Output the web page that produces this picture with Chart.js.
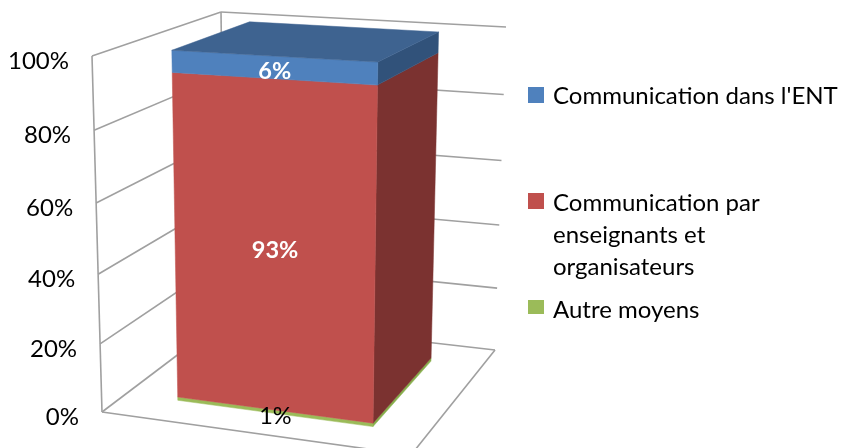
<!DOCTYPE html>
<html>
<head>
<meta charset="utf-8">
<style>
  html, body { margin: 0; padding: 0; background: #fff; }
  canvas { display: block; }
</style>
<script src="https://cdn.jsdelivr.net/npm/chart.js@4/dist/chart.umd.min.js"></script>
</head>
<body>
<canvas id="chart" width="841" height="448"></canvas>
<script>
const categories = ['Moyens'];
const seriesNames = ['Autre moyens', 'Communication par enseignants et organisateurs', "Communication dans l'ENT"];
const seriesValues = [1, 93, 6];
const tickStep = 20;

// front, side, top colours of each series
const frontColors = ['#9BBB59', '#C0504D', '#4F81BD'];
const sideColors = ['#86AC4A', '#7B3230', '#31527A'];
const topColors = ['#86AC4A', '#7B3230', '#3E6390'];
const labelColors = ['#000', '#fff', '#fff'];
const labelWeights = ['normal', 'bold', 'bold'];
const labelShift = [5, 2, 4];

// legend layout: top of the swatch and the wrapped lines of each entry
const legendEntries = [
    { series: 2, boxTop: 87, boxHeight: 16, lines: ["Communication dans l'ENT"], firstLine: 96 },
    { series: 1, boxTop: 193, boxHeight: 16, lines: ['Communication par', 'enseignants et', 'organisateurs'], firstLine: 203 },
    { series: 0, boxTop: 300, boxHeight: 14, lines: ['Autre moyens'], firstLine: 310 }
];

// corners of the 3D box on screen, [floor, top]
const box = {
    frontLeft: [[102, 412], [92, 56]],
    frontRight: [[411, 455], [418, 75]],
    backLeft: [[225, 319], [221, 12]],
    backRight: [[495, 350], [506, 27]]
};
const barDepth = [0.2, 0.837];
const depthTilt = -0.053; // heights get a bit bigger towards the top
const barShift = -0.006;
const fontName = 'Lato, "Open Sans", sans-serif';

function lerp(a, b, t) {
    return [a[0] + (b[0] - a[0]) * t, a[1] + (b[1] - a[1]) * t];
}

function project(u, v, w) {
    const t = v * (1 + depthTilt) / (1 + depthTilt * v);
    const front = lerp(lerp(box.frontLeft[0], box.frontRight[0], u), lerp(box.frontLeft[1], box.frontRight[1], u), t);
    const back = lerp(lerp(box.backLeft[0], box.backRight[0], u), lerp(box.backLeft[1], box.backRight[1], u), t);
    return lerp(front, back, w);
}

function line(ctx, a, b) {
    ctx.beginPath();
    ctx.moveTo(a[0], a[1]);
    ctx.lineTo(b[0], b[1]);
    ctx.stroke();
}

function quad(ctx, pts, color) {
    ctx.fillStyle = color;
    ctx.strokeStyle = color;
    ctx.lineWidth = 0.5;
    ctx.beginPath();
    pts.forEach((p, i) => i ? ctx.lineTo(p[0], p[1]) : ctx.moveTo(p[0], p[1]));
    ctx.closePath();
    ctx.fill();
    ctx.stroke();
}

const perspectivePlugin = {
    id: 'perspective',
    beforeDatasetsDraw(chart) {
        const ctx = chart.ctx;
        const area = chart.chartArea;
        const yScale = chart.scales.y;
        const heightOf = px => (area.bottom - px) / (area.bottom - area.top);
        const tickHeight = tick => heightOf(yScale.getPixelForValue(tick.value));

        // walls, floor and gridlines
        ctx.save();
        ctx.strokeStyle = '#A0A0A0';
        ctx.lineWidth = 1.6;
        yScale.ticks.forEach(tick => {
            const v = tickHeight(tick);
            line(ctx, project(0, v, 0), project(0, v, 1));
            line(ctx, project(0, v, 1), project(1, v, 1));
        });
        line(ctx, project(0, 0, 0), project(0, 1, 0));
        line(ctx, project(0, 0, 1), project(0, 1, 1));
        line(ctx, project(0, 0, 0), project(1, 0, 0));
        line(ctx, project(1, 0, 0), project(1, 0, 1));

        // tick labels follow the slanted axis
        ctx.fillStyle = '#000';
        ctx.font = '24px ' + fontName;
        ctx.textAlign = 'right';
        ctx.textBaseline = 'middle';
        yScale.ticks.forEach(tick => {
            const p = project(0, tickHeight(tick), 0);
            ctx.fillText(tick.value + '%', p[0] - 23, p[1] + 5);
        });

        // stacked bar, bottom segment first
        const w0 = barDepth[0];
        const w1 = barDepth[1];
        const last = seriesValues.length - 1;
        seriesValues.forEach((value, i) => {
            const el = chart.getDatasetMeta(i).data[0];
            const u0 = (el.x - el.width / 2 - area.left) / area.width + barShift;
            const u1 = (el.x + el.width / 2 - area.left) / area.width + barShift;
            const vb = heightOf(el.base);
            const vt = heightOf(el.y);
            quad(ctx, [project(u1, vb, w0), project(u1, vb, w1), project(u1, vt, w1), project(u1, vt, w0)], sideColors[i]);
            quad(ctx, [project(u0, vb, w0), project(u1, vb, w0), project(u1, vt, w0), project(u0, vt, w0)], frontColors[i]);
            if (i === last) {
                quad(ctx, [project(u0, vt, w0), project(u1, vt, w0), project(u1, vt, w1), project(u0, vt, w1)], topColors[i]);
            }
        });

        // value labels in the middle of each front face
        seriesValues.forEach((value, i) => {
            const el = chart.getDatasetMeta(i).data[0];
            const um = (el.x - area.left) / area.width + barShift;
            const vm = (heightOf(el.base) + heightOf(el.y)) / 2;
            const p = project(um, vm, w0);
            ctx.fillStyle = labelColors[i];
            ctx.font = labelWeights[i] + ' 23.5px ' + fontName;
            ctx.textAlign = 'center';
            ctx.fillText(value + '%', p[0], p[1] + labelShift[i]);
        });

        // legend
        ctx.textAlign = 'left';
        ctx.font = '24px ' + fontName;
        legendEntries.forEach(entry => {
            ctx.fillStyle = frontColors[entry.series];
            ctx.fillRect(528, entry.boxTop, 16, entry.boxHeight);
            ctx.fillStyle = '#000';
            entry.lines.forEach((text, n) => ctx.fillText(text, 553, entry.firstLine + n * 32));
        });
        ctx.restore();
        return false;
    }
};

new Chart(document.getElementById('chart'), {
    type: 'bar',
    data: {
        labels: categories,
        datasets: seriesNames.map((name, i) => ({
            label: name,
            data: [seriesValues[i]],
            backgroundColor: frontColors[i],
            barPercentage: 1,
            categoryPercentage: 0.648
        }))
    },
    options: {
        responsive: false,
        animation: false,
        layout: { padding: { left: 92, right: 335, top: 56, bottom: 36 } },
        plugins: { legend: { display: false }, tooltip: { enabled: false } },
        scales: {
            x: { stacked: true, display: false },
            y: {
                stacked: true,
                min: 0,
                max: 100,
                ticks: { stepSize: tickStep, display: false },
                grid: { display: false },
                border: { display: false }
            }
        }
    },
    plugins: [perspectivePlugin]
});
</script>
</body>
</html>
